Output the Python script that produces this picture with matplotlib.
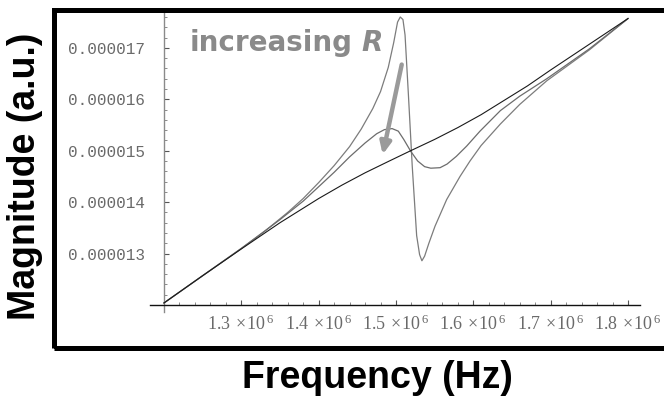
import matplotlib
matplotlib.use("Agg")
import matplotlib.pyplot as plt
from matplotlib.patches import Rectangle
from matplotlib.ticker import FixedLocator, MultipleLocator, NullFormatter

# ---- data (frequency in units of 1e6 Hz, magnitude in units of 1e-6) ----
freq_low = [1.20, 1.25, 1.30, 1.33, 1.36, 1.38, 1.40, 1.42, 1.44, 1.455, 1.47, 1.48, 1.49,
            1.497, 1.502, 1.5055, 1.509, 1.5117, 1.516, 1.521, 1.5267, 1.5305, 1.5335, 1.537,
            1.5425, 1.5504, 1.5655, 1.5828, 1.5957, 1.61, 1.635, 1.66, 1.695, 1.75, 1.80]
mag_low = [12.04, 12.57, 13.10, 13.43, 13.80, 14.07, 14.38, 14.71, 15.08, 15.42, 15.82, 16.15,
           16.62, 17.10, 17.50, 17.60, 17.55, 17.25, 16.10, 14.70, 13.35, 12.98, 12.86, 12.95,
           13.20, 13.53, 14.05, 14.50, 14.80, 15.10, 15.52, 15.90, 16.36, 16.96, 17.57]

freq_mid = [1.20, 1.25, 1.30, 1.35, 1.38, 1.40, 1.42, 1.44, 1.46, 1.475, 1.485, 1.495, 1.503,
            1.51, 1.519, 1.528, 1.537, 1.545, 1.557, 1.566, 1.578, 1.5914, 1.6086, 1.635,
            1.66, 1.695, 1.75, 1.80]
mag_mid = [12.04, 12.57, 13.10, 13.66, 14.02, 14.30, 14.58, 14.88, 15.15, 15.33, 15.41, 15.43,
           15.38, 15.22, 14.99, 14.80, 14.69, 14.66, 14.67, 14.74, 14.89, 15.09, 15.38, 15.78,
           16.06, 16.40, 16.98, 17.57]

freq_high = [1.20, 1.25, 1.30, 1.35, 1.40, 1.43, 1.46, 1.49, 1.519, 1.55, 1.58, 1.61, 1.64,
             1.67, 1.70, 1.75, 1.80]
mag_high = [12.04, 12.57, 13.09, 13.60, 14.07, 14.33, 14.57, 14.79, 15.00, 15.22, 15.45, 15.70,
            15.98, 16.26, 16.57, 17.07, 17.57]

x_ticks = [1.3, 1.4, 1.5, 1.6, 1.7, 1.8]
x_ticklabels = [r"$\mathregular{1.3\,\times\!10^{\,6}}$", r"$\mathregular{1.4\,\times\!10^{\,6}}$",
                r"$\mathregular{1.5\,\times\!10^{\,6}}$", r"$\mathregular{1.6\,\times\!10^{\,6}}$",
                r"$\mathregular{1.7\,\times\!10^{\,6}}$", r"$\mathregular{1.8\,\times\!10^{\,6}}$"]
y_ticks = [13, 14, 15, 16, 17]
y_ticklabels = ["0.000013", "0.000014", "0.000015", "0.000016", "0.000017"]

# ---- figure ----
W, H = 664, 400
fig = plt.figure(figsize=(W / 100, H / 100), dpi=100)
fig.patch.set_facecolor("white")

ax_l, ax_r, ax_t, ax_b = 150, 640, 10, 312
ax = fig.add_axes([ax_l / W, 1 - ax_b / H, (ax_r - ax_l) / W, (ax_b - ax_t) / H])

xpx = 773.33  # px per 1e6 Hz
ypx = 51.43   # px per 1e-6
x0_px, y0_px = 164, 305
ax.set_xlim((1.2 - (x0_px - ax_l) / xpx) * 1e6, (1.2 + (ax_r - x0_px) / xpx) * 1e6)
ax.set_ylim((12.0 - (ax_b - y0_px) / ypx) * 1e-6, (12.0 + (y0_px - ax_t) / ypx) * 1e-6)

def sx(v):
    return [a * 1e6 for a in v]

def sy(v):
    return [a * 1e-6 for a in v]

ax.plot(sx(freq_low), sy(mag_low), color="#7c7c7c", lw=0.9, zorder=3)
ax.plot(sx(freq_mid), sy(mag_mid), color="#6c6c6c", lw=0.9, zorder=3)
ax.plot(sx(freq_high), sy(mag_high), color="#1a1a1a", lw=0.8, zorder=4)

# Mathematica-style axes
for s in ["top", "right"]:
    ax.spines[s].set_visible(False)
ax.spines["left"].set_position(("data", 1.2e6))
ax.spines["bottom"].set_position(("data", 12.0e-6))
ax.spines["left"].set_color("#8a8a8a")
ax.spines["left"].set_linewidth(1.0)
ax.spines["bottom"].set_color("#111111")
ax.spines["bottom"].set_linewidth(1.0)
ax.patch.set_visible(False)

ax.xaxis.set_major_locator(FixedLocator([v * 1e6 for v in x_ticks]))
ax.set_xticklabels(x_ticklabels)
ax.xaxis.set_minor_locator(MultipleLocator(0.02e6))
ax.yaxis.set_major_locator(FixedLocator([v * 1e-6 for v in y_ticks]))
ax.set_yticklabels(y_ticklabels)
ax.yaxis.set_minor_locator(MultipleLocator(0.2e-6))
ax.xaxis.set_minor_formatter(NullFormatter())
ax.yaxis.set_minor_formatter(NullFormatter())

ax.tick_params(axis="both", which="major", direction="in", length=3.5, width=0.8, color="#555555")
ax.tick_params(axis="both", which="minor", direction="in", length=2, width=0.6, color="#777777")
ax.tick_params(axis="y", which="major", pad=14, labelsize=11.5, labelcolor="#6a6a6a")
ax.tick_params(axis="x", which="major", pad=7, labelsize=13, labelcolor="#6a6a6a")
for lab in ax.get_yticklabels():
    lab.set_fontfamily("Liberation Mono")
for lab in ax.get_xticklabels():
    lab.set_fontfamily("Liberation Serif")

# annotation
ax.annotate("", xy=(1.4828e6, 14.925e-6), xytext=(1.5074e6, 16.675e-6),
            arrowprops=dict(arrowstyle="-|>,head_length=0.7,head_width=0.32",
                            color="#9a9a9a", lw=3.2, shrinkA=0, shrinkB=0), zorder=5)
ax.text(1.2335e6, 16.93e-6, "increasing", family="DejaVu Sans", fontweight="bold",
        fontsize=20, color="#8a8a8a", ha="left", va="baseline", zorder=6)
ax.text(1.4555e6, 16.93e-6, "R", family="DejaVu Sans", fontweight="bold", style="italic",
        fontsize=20, color="#8a8a8a", ha="left", va="baseline", zorder=6)

# frame
fig.patches.append(Rectangle((54 / W, 1 - 347.5 / H), (700 - 54) / W, (347.5 - 9.5) / H,
                             transform=fig.transFigure, fill=False, edgecolor="black",
                             lw=3.6, zorder=10, clip_on=False))

# axis labels
fig.text(377 / W, 1 - 388 / H, "Frequency (Hz)", family="Liberation Sans", fontweight="bold",
         fontsize=27, ha="center", va="baseline", color="black")
fig.text(25 / W, 1 - 176 / H, "Magnitude (a.u.)", family="Liberation Sans", fontweight="bold",
         fontsize=27, ha="center", va="center", rotation=90, color="black")

fig.savefig("out.png", dpi=100)
